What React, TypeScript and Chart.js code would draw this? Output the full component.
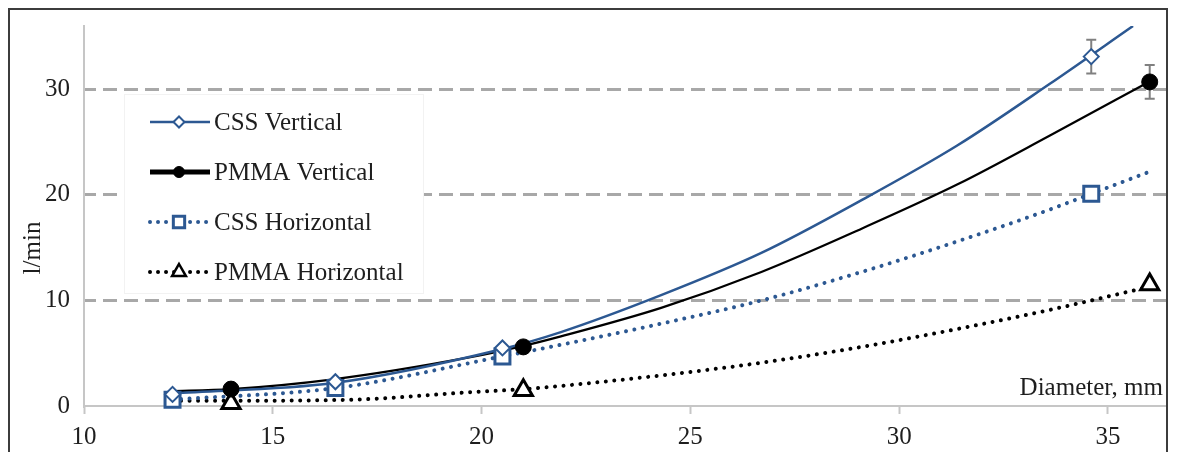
import React, { useEffect, useRef } from 'react';
import { Chart, registerables } from 'chart.js';

Chart.register(...registerables);

const FONT = "'Liberation Serif', 'Times New Roman', serif";
const BLUE = '#2C5892';
const BLACK = '#000000';
const GRID_GRAY = '#A8A8A8';
const AXIS_GRAY = '#C6C6C6';
const ERR_GRAY = '#808080';
const TEXT = '#1E1E1E';

const X_MIN = 10.48;
const X_MAX = 36.39;
const Y_MIN = 0;
const Y_MAX = 36;
const X_TICK_POSITIONS = [X_MIN, 15, 20, 25, 30, 35];
const X_TICK_LABELS = ['10', '15', '20', '25', '30', '35'];
const Y_STEP = 10;
const Y_TITLE = 'l/min';
const X_TITLE = 'Diameter, mm';

const SERIES_NAMES = ['CSS Vertical', 'PMMA Vertical', 'CSS Horizontal', 'PMMA Horizontal'];

// measured points
const CSS_V_X = [12.6, 16.5, 20.5, 34.6];
const CSS_V_Y = [1.1, 2.3, 5.5, 33.1];
const CSS_V_ERR = [0, 0, 0, 1.6];
const PMMA_V_X = [14.0, 21.0, 36.0];
const PMMA_V_Y = [1.6, 5.6, 30.7];
const PMMA_V_ERR = [0, 0, 1.6];
const CSS_H_X = [12.6, 16.5, 20.5, 34.6];
const CSS_H_Y = [0.6, 1.7, 4.7, 20.1];
const CSS_H_ERR = [0, 0, 0, 0.4];
const PMMA_H_X = [14.0, 21.0, 36.0];
const PMMA_H_Y = [0.25, 1.5, 11.5];
const PMMA_H_ERR = [0, 0, 0];

// trend lines
const CSS_V_TREND_X = [12.6, 16.5, 20.5, 21.9, 24.3, 26.7, 29.1, 31.4, 33.6, 35.6];
const CSS_V_TREND_Y = [1.2, 2.2, 5.4, 7.0, 10.5, 14.5, 19.5, 24.7, 30.5, 36.0];
const PMMA_V_TREND_X = [12.5, 14.0, 16.4, 19.7, 21.0, 21.9, 24.3, 26.7, 29.1, 31.4, 33.6, 36.0];
const PMMA_V_TREND_Y = [1.4, 1.6, 2.5, 4.6, 5.7, 6.6, 9.3, 12.7, 16.8, 21.0, 25.6, 30.75];
const CSS_H_TREND_X = [12.6, 16.5, 20.5, 21.9, 24.3, 26.7, 29.1, 31.4, 33.6, 34.6, 36.0];
const CSS_H_TREND_Y = [0.6, 1.7, 4.7, 5.8, 7.8, 10.0, 12.7, 15.6, 18.6, 20.1, 22.2];
const PMMA_H_TREND_X = [12.6, 14.0, 16.9, 19.7, 21.0, 21.9, 24.3, 26.7, 29.1, 31.4, 33.6, 36.0];
const PMMA_H_TREND_Y = [0.5, 0.5, 0.6, 1.3, 1.6, 1.9, 2.9, 4.1, 5.6, 7.3, 9.1, 11.3];

const zip = (xs: number[], ys: number[]) => xs.map((x, i) => ({ x, y: ys[i] }));

const ERROR_SETS = [
  { xs: CSS_V_X, ys: CSS_V_Y, errs: CSS_V_ERR },
  { xs: PMMA_V_X, ys: PMMA_V_Y, errs: PMMA_V_ERR },
  { xs: CSS_H_X, ys: CSS_H_Y, errs: CSS_H_ERR },
  { xs: PMMA_H_X, ys: PMMA_H_Y, errs: PMMA_H_ERR },
];

function drawMarker(ctx: CanvasRenderingContext2D, style: string, x: number, y: number, r: number, fill: string, stroke: string, lw: number) {
  ctx.save();
  ctx.setLineDash([]);
  ctx.beginPath();
  if (style === 'circle') {
    ctx.arc(x, y, r, 0, Math.PI * 2);
  } else if (style === 'rectRot') {
    ctx.moveTo(x - r, y);
    ctx.lineTo(x, y - r);
    ctx.lineTo(x + r, y);
    ctx.lineTo(x, y + r);
    ctx.closePath();
  } else if (style === 'rect') {
    const s = r * Math.SQRT1_2;
    ctx.rect(x - s, y - s, 2 * s, 2 * s);
  } else if (style === 'triangle') {
    ctx.moveTo(x, y - r);
    ctx.lineTo(x + 0.866 * r, y + 0.5 * r);
    ctx.lineTo(x - 0.866 * r, y + 0.5 * r);
    ctx.closePath();
  }
  ctx.fillStyle = fill;
  ctx.fill();
  ctx.lineWidth = lw;
  ctx.strokeStyle = stroke;
  ctx.stroke();
  ctx.restore();
}

const LEGEND_ITEMS = [
  { color: BLUE, lineWidth: 2.5, dotted: false, style: 'rectRot', r: 5.5, fill: '#fff', mlw: 2 },
  { color: BLACK, lineWidth: 5, dotted: false, style: 'circle', r: 5.5, fill: BLACK, mlw: 1 },
  { color: BLUE, lineWidth: 4, dotted: true, style: 'rect', r: 8, fill: '#fff', mlw: 3 },
  { color: BLACK, lineWidth: 4, dotted: true, style: 'triangle', r: 8, fill: '#fff', mlw: 2.5 },
];

const overlayPlugin = {
  id: 'overlay',
  beforeDatasetsDraw(chart: any) {
    const ctx: CanvasRenderingContext2D = chart.ctx;
    const xs = chart.scales.x;
    const ys = chart.scales.y;
    ctx.save();
    ctx.strokeStyle = ERR_GRAY;
    ctx.lineWidth = 2;
    ERROR_SETS.forEach((set) => {
      set.errs.forEach((e, i) => {
        if (!e) return;
        const px = xs.getPixelForValue(set.xs[i]);
        const top = ys.getPixelForValue(set.ys[i] + e);
        const bot = ys.getPixelForValue(set.ys[i] - e);
        ctx.beginPath();
        ctx.moveTo(px, top);
        ctx.lineTo(px, bot);
        ctx.moveTo(px - 5, top);
        ctx.lineTo(px + 5, top);
        ctx.moveTo(px - 5, bot);
        ctx.lineTo(px + 5, bot);
        ctx.stroke();
      });
    });
    ctx.restore();
  },
  afterDraw(chart: any) {
    const ctx: CanvasRenderingContext2D = chart.ctx;
    const area = chart.chartArea;
    ctx.save();
    // legend box
    const bx = 114, by = 84, bw = 300, bh = 200;
    ctx.fillStyle = '#ffffff';
    ctx.fillRect(bx, by, bw, bh);
    ctx.strokeStyle = '#F2F2F2';
    ctx.lineWidth = 1;
    ctx.strokeRect(bx + 0.5, by + 0.5, bw - 1, bh - 1);
    LEGEND_ITEMS.forEach((it, i) => {
      const base = 120 + i * 50;
      const ly = base - 8;
      ctx.save();
      ctx.strokeStyle = it.color;
      ctx.lineWidth = it.lineWidth;
      if (it.dotted) {
        ctx.setLineDash([0.01, 8]);
        ctx.lineCap = 'round';
      } else {
        ctx.setLineDash([]);
        ctx.lineCap = 'butt';
      }
      ctx.beginPath();
      ctx.moveTo(140, ly);
      ctx.lineTo(200, ly);
      ctx.stroke();
      ctx.restore();
      drawMarker(ctx, it.style, 169, ly, it.r, it.fill, it.color, it.mlw);
      ctx.fillStyle = TEXT;
      ctx.font = `25px ${FONT}`;
      ctx.textAlign = 'left';
      ctx.textBaseline = 'alphabetic';
      ctx.fillText(SERIES_NAMES[i], 204, base);
    });
    // axis titles
    ctx.fillStyle = TEXT;
    ctx.font = `25px ${FONT}`;
    ctx.textAlign = 'right';
    ctx.textBaseline = 'alphabetic';
    ctx.fillText(X_TITLE, area.right - 3, area.bottom - 11);
    ctx.translate(30, 238);
    ctx.rotate(-Math.PI / 2);
    ctx.textAlign = 'center';
    ctx.fillText(Y_TITLE, 0, 0);
    ctx.restore();
  },
};

export default function App() {
  const ref = useRef<HTMLCanvasElement | null>(null);

  useEffect(() => {
    if (!ref.current) return;
    Chart.defaults.font.family = FONT;
    const chart = new Chart(ref.current, {
      type: 'scatter',
      data: {
        datasets: [
          {
            label: SERIES_NAMES[0],
            data: zip(CSS_V_X, CSS_V_Y),
            showLine: false,
            pointStyle: 'rectRot',
            pointRadius: 7.5,
            pointBackgroundColor: '#ffffff',
            pointBorderColor: BLUE,
            pointBorderWidth: 2,
            order: 0,
            clip: false,
          },
          {
            label: SERIES_NAMES[1],
            data: zip(PMMA_V_X, PMMA_V_Y),
            showLine: false,
            pointStyle: 'circle',
            pointRadius: 8,
            pointBackgroundColor: BLACK,
            pointBorderColor: BLACK,
            pointBorderWidth: 1,
            order: 0,
            clip: false,
          },
          {
            label: SERIES_NAMES[2],
            data: zip(CSS_H_X, CSS_H_Y),
            showLine: false,
            pointStyle: 'rect',
            pointRadius: 10.6,
            pointBackgroundColor: '#ffffff',
            pointBorderColor: BLUE,
            pointBorderWidth: 3,
            order: 0,
            clip: false,
          },
          {
            label: SERIES_NAMES[3],
            data: zip(PMMA_H_X, PMMA_H_Y),
            showLine: false,
            pointStyle: 'triangle',
            pointRadius: 10.5,
            pointBackgroundColor: '#ffffff',
            pointBorderColor: BLACK,
            pointBorderWidth: 3,
            order: 0,
            clip: false,
          },
          {
            label: SERIES_NAMES[0] + ' trend',
            data: zip(CSS_V_TREND_X, CSS_V_TREND_Y),
            showLine: true,
            borderColor: BLUE,
            borderWidth: 2.5,
            pointRadius: 0,
            cubicInterpolationMode: 'monotone',
            order: 1,
          },
          {
            label: SERIES_NAMES[1] + ' trend',
            data: zip(PMMA_V_TREND_X, PMMA_V_TREND_Y),
            showLine: true,
            borderColor: BLACK,
            borderWidth: 2.2,
            pointRadius: 0,
            cubicInterpolationMode: 'monotone',
            order: 1,
          },
          {
            label: SERIES_NAMES[2] + ' trend',
            data: zip(CSS_H_TREND_X, CSS_H_TREND_Y),
            showLine: true,
            borderColor: BLUE,
            borderWidth: 4,
            borderDash: [0.01, 8.5],
            borderCapStyle: 'round',
            pointRadius: 0,
            cubicInterpolationMode: 'monotone',
            order: 1,
          },
          {
            label: SERIES_NAMES[3] + ' trend',
            data: zip(PMMA_H_TREND_X, PMMA_H_TREND_Y),
            showLine: true,
            borderColor: BLACK,
            borderWidth: 4,
            borderDash: [0.01, 8.5],
            borderCapStyle: 'round',
            pointRadius: 0,
            cubicInterpolationMode: 'monotone',
            order: 1,
          },
        ] as any,
      },
      options: {
        responsive: false,
        animation: false,
        devicePixelRatio: 1,
        layout: { autoPadding: false, padding: { top: 16, left: 0, right: 0, bottom: 0 } },
        plugins: {
          legend: { display: false },
          tooltip: { enabled: false },
          title: { display: false },
        },
        scales: {
          x: {
            type: 'linear',
            min: X_MIN,
            max: X_MAX,
            afterBuildTicks: (scale: any) => {
              scale.ticks = X_TICK_POSITIONS.map((v) => ({ value: v }));
            },
            afterFit: (scale: any) => {
              scale.height = 54;
              scale.paddingLeft = 0;
              scale.paddingRight = 0;
              scale.paddingTop = 0;
              scale.paddingBottom = 0;
            },
            ticks: {
              autoSkip: false,
              maxRotation: 0,
              padding: 8,
              color: TEXT,
              font: { size: 25, family: FONT },
              callback: (_v: any, i: number) => X_TICK_LABELS[i],
            },
            grid: {
              drawOnChartArea: false,
              drawTicks: true,
              tickLength: 8,
              tickColor: AXIS_GRAY,
              tickWidth: 2,
              color: AXIS_GRAY,
            },
            border: { display: true, color: AXIS_GRAY, width: 2 },
          },
          y: {
            type: 'linear',
            min: Y_MIN,
            max: Y_MAX,
            afterFit: (scale: any) => {
              scale.width = 74;
              scale.paddingLeft = 0;
              scale.paddingRight = 0;
              scale.paddingTop = 0;
              scale.paddingBottom = 0;
            },
            ticks: {
              stepSize: Y_STEP,
              includeBounds: false,
              padding: 14,
              color: TEXT,
              font: { size: 25, family: FONT },
            },
            grid: {
              drawTicks: false,
              lineWidth: 3,
              color: (c: any) => (c.tick && c.tick.value === 0 ? 'rgba(0,0,0,0)' : GRID_GRAY),
            },
            border: { display: true, color: AXIS_GRAY, width: 2, dash: [14, 7], dashOffset: 3 },
          },
        },
      } as any,
      plugins: [overlayPlugin],
    });
    return () => chart.destroy();
  }, []);

  return (
    <div
      style={{
        border: '2px solid #3C3C3C',
        width: 1156,
        height: 450,
        boxSizing: 'content-box',
        background: '#fff',
      }}
    >
      <canvas ref={ref} width={1156} height={450} style={{ display: 'block' }} />
    </div>
  );
}
